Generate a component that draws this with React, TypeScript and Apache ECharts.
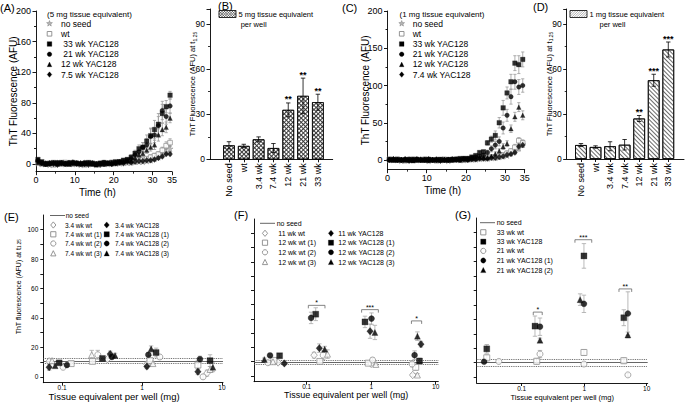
import React, { useEffect, useRef } from "react";
import * as echarts from "echarts";

const FONT = '"Liberation Sans", Arial, Helvetica, sans-serif';

// ---------------- Panels A & C : ThT time courses ----------------
const TIME_H = [0.5, 1.5, 2.5, 3.5, 4.5, 5.5, 6.5, 7.5, 8.5, 9.5, 10.5, 11.5, 12.5, 13.5, 14.5, 15.5, 16.5, 17.5, 18.5, 19.5, 20.5, 21.5, 22.5, 23.5, 24.5, 25.5, 26.5, 27.5, 28.5, 29.5, 30.5, 31.5, 32.5, 33.5, 34.5];

const A_NO_SEED = [1, 0, 1, -1, 0, 1, 1, 0, 1, 0, 1, -1, 0, 1, 0, -1, 0, 1, 0, 1, 1, 1, 2, 2, 2, 3, 3, 3, 4, 5, 7, 9, 12, 16, 20];
const A_NO_SEED_ERR = [1, 1, 1, 1, 1, 1, 1, 1, 1, 1, 1, 1, 1, 1, 1, 1, 1, 1, 1, 1, 1, 1, 1, 1, 1, 1, 1, 2, 2, 2, 2, 3, 3, 4, 4];
const A_WT = [2, 1, 0, 1, -1, 1, 0, 2, 1, 0, 1, 0, -1, 1, 1, 0, 1, 0, 1, 2, 1, 2, 3, 2, 4, 4, 5, 6, 7, 9, 11, 13, 18, 24, 28];
const A_WT_ERR = [1, 1, 1, 1, 1, 1, 1, 1, 1, 1, 1, 1, 1, 1, 1, 1, 1, 1, 1, 1, 1, 1, 1, 1, 1, 2, 2, 2, 2, 3, 3, 3, 4, 5, 5];
const A_YAC_7_5 = [3, 1, 0, 1, 0, -1, 1, 0, 1, 2, 0, 1, 0, -1, 1, 0, -1, 0, 1, 0, 1, 2, 1, 3, 2, 3, 4, 4, 5, 5, 6, 8, 10, 13, 13];
const A_YAC_7_5_ERR = [2, 1, 1, 1, 1, 1, 1, 1, 1, 1, 1, 1, 1, 1, 1, 1, 1, 1, 1, 1, 1, 1, 1, 1, 1, 1, 1, 1, 1, 2, 2, 2, 2, 2, 2];
const A_YAC_12 = [2, 1, 0, 1, 2, 0, 1, 1, 0, 1, 2, 1, 0, 1, 0, -1, 1, 0, 1, 2, 1, 2, 3, 4, 4, 8, 12, 14, 18, 22, 25, 38, 45, 48, 60];
const A_YAC_12_ERR = [1, 1, 1, 1, 1, 1, 1, 1, 1, 1, 1, 1, 1, 1, 1, 1, 1, 1, 1, 1, 1, 1, 2, 2, 2, 3, 3, 4, 4, 5, 6, 8, 8, 7, 6];
const A_YAC_21 = [5, 2, 1, 0, 1, 2, 1, 0, 2, 1, 1, 0, 2, 1, 0, -1, 1, 2, 1, 0, 2, 3, 3, 5, 7, 12, 16, 22, 25, 36, 38, 50, 70, 62, 76];
const A_YAC_21_ERR = [2, 1, 1, 1, 1, 1, 1, 1, 1, 1, 1, 1, 1, 1, 1, 1, 1, 1, 1, 1, 1, 2, 2, 3, 3, 4, 5, 6, 8, 10, 10, 12, 12, 10, 9];
const A_YAC_33 = [6, 3, 0, 1, 2, 1, 2, 1, 0, 2, 1, 0, 1, 2, 1, 0, 1, 2, 1, 2, 3, 3, 5, 6, 9, 14, 20, 22, 30, 37, 45, 52, 66, 75, 90];
const A_YAC_33_ERR = [2, 1, 1, 1, 1, 1, 1, 1, 1, 1, 1, 1, 1, 1, 1, 1, 1, 1, 1, 1, 1, 2, 2, 2, 3, 4, 5, 6, 8, 10, 12, 14, 12, 8, 5];

const C_NO_SEED = [0, 1, 0, -1, 0, 1, 0, 0, 1, 0, -1, 0, 1, 0, 0, -1, 0, 1, 0, 0, 1, 1, 1, 2, 2, 2, 3, 3, 4, 5, 6, 9, 12, 16, 21];
const C_NO_SEED_ERR = [1, 1, 1, 1, 1, 1, 1, 1, 1, 1, 1, 1, 1, 1, 1, 1, 1, 1, 1, 1, 1, 1, 1, 1, 1, 1, 1, 2, 2, 2, 2, 3, 3, 4, 4];
const C_WT = [1, 0, 1, 0, -1, 0, 1, 0, 0, 1, 0, 0, -1, 0, 1, 0, 0, 1, 1, 0, 1, 1, 2, 2, 3, 3, 4, 4, 5, 7, 9, 12, 17, 26, 23];
const C_WT_ERR = [1, 1, 1, 1, 1, 1, 1, 1, 1, 1, 1, 1, 1, 1, 1, 1, 1, 1, 1, 1, 1, 1, 1, 1, 1, 1, 1, 2, 2, 2, 3, 3, 4, 4, 4];
const C_YAC_7_4 = [0, 1, 0, 0, 1, -1, 0, 1, 0, 0, 1, 0, 0, -1, 0, 0, 1, 0, 0, 1, 0, 1, 1, 2, 2, 2, 3, 3, 4, 5, 7, 8, 10, 18, 20];
const C_YAC_7_4_ERR = [1, 1, 1, 1, 1, 1, 1, 1, 1, 1, 1, 1, 1, 1, 1, 1, 1, 1, 1, 1, 1, 1, 1, 1, 1, 1, 1, 1, 1, 2, 2, 2, 2, 3, 3];
const C_YAC_12 = [1, 0, 0, 1, 0, 0, -1, 0, 1, 0, 0, 1, 0, 0, 1, 0, 0, 1, 0, 1, 1, 2, 2, 3, 3, 3, 5, 8, 12, 18, 22, 42, 58, 71, 60];
const C_YAC_12_ERR = [1, 1, 1, 1, 1, 1, 1, 1, 1, 1, 1, 1, 1, 1, 1, 1, 1, 1, 1, 1, 1, 1, 1, 1, 2, 2, 2, 3, 3, 4, 4, 5, 6, 6, 6];
const C_YAC_21 = [0, 1, 0, 0, 1, 0, 1, 0, 0, 1, -1, 0, 1, 0, 0, 1, 0, 1, 1, 2, 2, 3, 4, 5, 6, 10, 15, 20, 25, 43, 60, 85, 105, 98, 100];
const C_YAC_21_ERR = [1, 1, 1, 1, 1, 1, 1, 1, 1, 1, 1, 1, 1, 1, 1, 1, 1, 1, 1, 1, 1, 2, 2, 2, 3, 3, 4, 5, 6, 8, 8, 10, 10, 10, 9];
const C_YAC_33 = [1, 0, 1, 0, 0, 1, 0, 1, 0, 0, 1, 0, 0, 1, 0, 0, 1, 1, 2, 2, 2, 4, 6, 10, 11, 23, 28, 33, 50, 70, 90, 105, 130, 128, 135];
const C_YAC_33_ERR = [1, 1, 1, 1, 1, 1, 1, 1, 1, 1, 1, 1, 1, 1, 1, 1, 1, 1, 1, 1, 1, 2, 2, 2, 2, 3, 4, 6, 7, 10, 8, 10, 10, 12, 10];

const A_Y_TICKS = [0, 40, 80, 120, 160, 200];
const A_Y_MINOR = [20, 60, 100, 140, 180];
const C_Y_TICKS = [0, 50, 100, 150, 200];
const C_Y_MINOR = [25, 75, 125, 175];

// ---------------- Panels B & D : bars at t1.25 ----------------
const BAR_CATEGORIES = ["No seed", "wt", "3.4 wk", "7.4 wk", "12 wk", "21 wk", "33 wk"];
const BAR_Y_TICKS = [0, 30, 60, 90];
const B_VALUES = [9.3, 8.9, 13.3, 7.5, 32.9, 42.2, 38];
const B_ERRORS = [2.4, 1.1, 1.6, 3, 4.6, 11.8, 5.3];
const B_SIGNIF = ["", "", "", "", "**", "**", "**"];
const D_VALUES = [9.3, 8, 8.5, 9.5, 27, 52.5, 73];
const D_ERRORS = [1, 0.8, 3, 3.5, 2, 4, 5];
const D_SIGNIF = ["", "", "", "", "**", "***", "***"];

// ---------------- Panels E, F, G : dose response ----------------
const E_WT_3_4 = [[0.069, 10.5], [0.37, 12], [1.15, 8.5], [6.5, 2.5]];
const E_WT_3_4_ERR = [1.5, 1, 1.5, 2];
const E_WT_7_4_1 = [[0.13, 9], [0.24, 10.5], [1.26, 11], [5.0, 8]];
const E_WT_7_4_1_ERR = [1, 1, 3.5, 3];
const E_WT_7_4_2 = [[0.103, 6.5], [0.28, 15], [1.67, 13.5], [5.8, 0]];
const E_WT_7_4_2_ERR = [1, 3, 1.5, 1.5];
const E_WT_7_4_3 = [[0.075, 11], [0.235, 15], [1.37, 9], [7.1, 5]];
const E_WT_7_4_3_ERR = [1.5, 3, 1, 2];
const E_YAC_3_4 = [[0.069, 6.5], [0.4, 15.5], [1.15, 7], [5.0, 3.5]];
const E_YAC_3_4_ERR = [2, 2, 1.5, 2];
const E_YAC_7_4_1 = [[0.092, 9.5], [0.32, 12.5], [1.5, 16.5], [7.1, 11]];
const E_YAC_7_4_1_ERR = [1, 1, 3, 4];
const E_YAC_7_4_2 = [[0.115, 8], [0.42, 13.5], [1.2, 15], [5.3, 12]];
const E_YAC_7_4_2_ERR = [1, 1.5, 1.5, 2];
const E_YAC_7_4_3 = [[0.082, 7.5], [0.46, 14.5], [1.3, 19], [7.7, 6.5]];
const E_YAC_7_4_3_ERR = [1, 1.5, 2, 3];
const E_NO_SEED = [10.8, 12.6, 9.2]; // mean, upper, lower

const F_WT_11 = [[0.036, 9.5], [0.13, 14.6], [1.0, 8.5], [4.4, 0.7]];
const F_WT_11_ERR = [1, 2, 1, 1];
const F_WT_12_1 = [[0.031, 10.9], [0.16, 10.2], [0.9, 9], [4.9, 6.1]];
const F_WT_12_1_ERR = [1, 1.5, 1, 2];
const F_WT_12_2 = [[0.025, 9.3], [0.18, 14.6], [1.05, 11.2], [4.3, 8.4]];
const F_WT_12_2_ERR = [1, 3, 1.5, 2];
const F_WT_12_3 = [[0.03, 10], [0.21, 15.3], [1.18, 8.1], [5.2, 0.7]];
const F_WT_12_3_ERR = [1, 3, 1, 1];
const F_YAC_11 = [[0.045, 8.8], [0.157, 19.5], [0.96, 31.4], [5.9, 22.3]];
const F_YAC_11_ERR = [1, 3, 5, 2];
const F_YAC_12_1 = [[0.038, 14.2], [0.138, 43.3], [0.8, 37.9], [5.6, 10.5]];
const F_YAC_12_1_ERR = [1.5, 4.5, 4, 2];
const F_YAC_12_2 = [[0.027, 14.4], [0.117, 40.7], [1.01, 40.2], [4.7, 14.6]];
const F_YAC_12_2_ERR = [1, 4, 4, 3];
const F_YAC_12_3 = [[0.022, 11.6], [0.19, 18.8], [1.14, 30.5], [5.2, 27.9]];
const F_YAC_12_3_ERR = [1, 2, 5, 3];
const F_NO_SEED = [9.8, 11, 8.4];
const F_BRACKETS = [[0.106, 0.192, 49.5], [0.71, 1.29, 46.5], [4.2, 6.05, 38.6]];
const F_BRACKET_LABELS = ["*", "***", "*"];

const G_WT_33 = [[0.0276, 13.4], [0.174, 11], [0.99, 17.1], [4.3, 11.4]];
const G_WT_33_ERR = [2, 2, 2, 2];
const G_YAC_33 = [[0.0276, 19.6], [0.163, 35.3], [0.99, 83.8], [4.3, 41.1]];
const G_YAC_33_ERR = [3, 7, 8.5, 5.5];
const G_WT_21 = [[0.043, 10.9], [0.196, 16], [0.99, 9.1], [5.0, 1.6]];
const G_WT_21_ERR = [1, 2.5, 1, 1];
const G_YAC_21_1 = [[0.025, 10.7], [0.196, 34.9], [0.99, 50.7], [5.0, 44]];
const G_YAC_21_1_ERR = [1, 6, 6, 15];
const G_YAC_21_2 = [[0.196, 25.5], [0.86, 53.6], [5.0, 29.2]];
const G_YAC_21_2_ERR = [1.5, 4, 2];
const G_NO_SEED = [10, 12.6, 7.5];
const G_BRACKETS = [[0.153, 0.213, 45], [0.711, 1.32, 95], [3.6, 5.75, 61]];
const G_BRACKET_LABELS = ["*", "***", "**"];

const DOSE_Y_MAJOR = [0, 20, 40, 60, 80, 100];
const DOSE_Y_MINOR = [10, 30, 50, 70, 90];

// ---------------- helpers ----------------
const GRAY = "#8a8a8a";
const STAR_PATH = "path://M50,0 L61,35 L98,35 L68,57 L79,91 L50,70 L21,91 L32,57 L2,35 L39,35 Z";
const SYMBOLS: any = { rect: "rect", circle: "circle", triangle: "triangle", diamond: "diamond", star: STAR_PATH };

function ax(o: any) {
  const a: any = {
    type: o.type || "value",
    gridIndex: o.grid,
    min: o.min,
    max: o.max,
    silent: true,
    nameMoveOverlap: false,
    axisLine: { show: o.line !== false, onZero: false, lineStyle: { color: "#000", width: 0.9 } },
    axisTick: { show: o.tick !== false, inside: false, length: o.tickLen ?? 3, lineStyle: { color: "#000", width: 0.9 } },
    minorTick: { show: !!o.minor, splitNumber: o.minor || 2, length: 2, lineStyle: { color: "#000", width: 0.8 } },
    axisLabel: { show: o.label !== false, color: "#000", fontFamily: FONT, fontSize: o.fs || 9, margin: o.margin ?? 4, rotate: o.rotate || 0 },
    splitLine: { show: false },
    minorSplitLine: { show: false },
  };
  if (o.position) a.position = o.position;
  if (o.interval != null) a.interval = o.interval;
  if (o.type === "log") a.logBase = 10;
  if (o.tickValues) a.axisTick.customValues = o.tickValues.slice();
  if (o.labelValues) a.axisLabel.customValues = o.labelValues.slice();
  if (o.formatter) a.axisLabel.formatter = o.formatter;
  if (o.hideEnds) { a.axisLabel.showMinLabel = false; a.axisLabel.showMaxLabel = false; }
  if (o.name) {
    a.name = o.name;
    a.nameLocation = "middle";
    a.nameGap = o.nameGap;
    a.nameTextStyle = { color: "#000", fontFamily: FONT, fontSize: o.nameFs || 10, padding: o.namePad || 0 };
    if (o.rich) a.nameTextStyle.rich = o.rich;
  }
  return a;
}

function errRender(color: string, cap: number) {
  return (params: any, api: any) => {
    const x = api.value(0), y = api.value(1), e = api.value(2);
    if (!e) return null;
    const t = api.coord([x, y + e]);
    const b = api.coord([x, y - e]);
    const st = { stroke: color, lineWidth: 0.8 };
    return {
      type: "group",
      children: [
        { type: "line", shape: { x1: t[0], y1: t[1], x2: b[0], y2: b[1] }, style: st },
        { type: "line", shape: { x1: t[0] - cap, y1: t[1], x2: t[0] + cap, y2: t[1] }, style: st },
        { type: "line", shape: { x1: b[0] - cap, y1: b[1], x2: b[0] + cap, y2: b[1] }, style: st },
      ],
    };
  };
}

function itemStyleFor(filled: any, kind: string) {
  if (kind === "star") return { color: "#b5b5b5", borderColor: GRAY, borderWidth: 0.6 };
  return filled ? { color: "#000", borderColor: "#000", borderWidth: 0.3 } : { color: "#fff", borderColor: GRAY, borderWidth: 0.9 };
}

function legendSym(kind: string, cx: number, cy: number, s: number, filled: boolean) {
  const style: any = kind === "star" ? { fill: "#b5b5b5", stroke: GRAY, lineWidth: 0.6 }
    : filled ? { fill: "#000", stroke: "#000", lineWidth: 0.3 } : { fill: "#fff", stroke: GRAY, lineWidth: 0.9 };
  const h = s / 2;
  if (kind === "rect") return { type: "rect", shape: { x: cx - h, y: cy - h, width: s, height: s }, style };
  if (kind === "circle") return { type: "circle", shape: { cx, cy, r: h }, style };
  if (kind === "triangle") return { type: "polygon", shape: { points: [[cx, cy - h], [cx + h, cy + h], [cx - h, cy + h]] }, style };
  if (kind === "diamond") return { type: "polygon", shape: { points: [[cx, cy - h * 1.2], [cx + h, cy], [cx, cy + h * 1.2], [cx - h, cy]] }, style };
  const pts: number[][] = [];
  for (let k = 0; k < 10; k++) {
    const r = k % 2 === 0 ? h * 1.1 : h * 0.45;
    const a = -Math.PI / 2 + (k * Math.PI) / 5;
    pts.push([cx + r * Math.cos(a), cy + r * Math.sin(a)]);
  }
  return { type: "polygon", shape: { points: pts }, style };
}

function txt(text: string, x: number, y: number, fs: number, align = "left", extra: any = {}) {
  return {
    type: "text", x, y, silent: true,
    style: { text, fill: "#000", font: `${fs}px ${FONT}`, textAlign: align, textVerticalAlign: "middle", align, verticalAlign: "middle", ...extra },
  };
}

function hatch(x0: number, y0: number, w: number, h: number, step: number, dir: number, color: string) {
  const els: any[] = [];
  const st = { stroke: color, lineWidth: 0.6 };
  if (dir > 0) {
    for (let c = x0 + y0 + step / 2; c < x0 + w + y0 + h; c += step) {
      const xa = Math.max(x0, c - (y0 + h)), xb = Math.min(x0 + w, c - y0);
      if (xb > xa) els.push({ type: "line", shape: { x1: xa, y1: c - xa, x2: xb, y2: c - xb }, style: st });
    }
  } else {
    for (let c = x0 - (y0 + h) + step / 2; c < x0 + w - y0; c += step) {
      const xa = Math.max(x0, c + y0), xb = Math.min(x0 + w, c + y0 + h);
      if (xb > xa) els.push({ type: "line", shape: { x1: xa, y1: xa - c, x2: xb, y2: xb - c }, style: st });
    }
  }
  return els;
}

function buildOption() {
  const grid: any[] = [], xAxis: any[] = [], yAxis: any[] = [], series: any[] = [], graphic: any[] = [];
  const addGrid = (g: any) => { grid.push({ ...g, containLabel: false, show: false, outerBoundsMode: "none" }); return grid.length - 1; };
  const addX = (a: any) => { xAxis.push(a); return xAxis.length - 1; };
  const addY = (a: any) => { yAxis.push(a); return yAxis.length - 1; };

  // ---------- time-course panels ----------
  const timePanel = (g: any, yMin: number, yTicks: number[], yMinor: number[], namePadX: number, yGap: number, defs: any[]) => {
    const gi = addGrid(g);
    const xi = addX(ax({ grid: gi, min: 0, max: 35, interval: 10, minor: 2, fs: 9, margin: 4, tickLen: 3.5, name: "Time (h)", nameGap: 15.5, nameFs: 10, namePad: [0, namePadX, 0, 0] }));
    const yi = addY(ax({ grid: gi, position: "left", min: yMin, max: 200, labelValues: yTicks, tickValues: yTicks, fs: 9, margin: 5, tickLen: 3.5, name: "ThT Fluorescence (AFU)", nameGap: yGap, nameFs: 10 }));
    addY(ax({ grid: gi, position: "left", min: yMin, max: 200, line: false, label: false, tickValues: yMinor, tickLen: 2 }));
    defs.forEach((d: any) => {
      series.push({
        type: "custom", xAxisIndex: xi, yAxisIndex: yi, silent: true, z: 2,
        data: TIME_H.map((t, i) => [t, d.values[i], d.err[i]]),
        encode: { x: 0, y: 1 }, renderItem: errRender("#9a9a9a", 1.6),
      });
    });
    defs.forEach((d: any) => {
      series.push({
        type: "scatter", xAxisIndex: xi, yAxisIndex: yi, silent: true, z: 4,
        data: TIME_H.map((t, i) => [t, d.values[i]]),
        symbol: SYMBOLS[d.kind], symbolSize: d.kind === "diamond" ? [5, 6] : d.kind === "star" ? 6 : 4.6,
        itemStyle: itemStyleFor(d.filled, d.kind),
      });
    });
  };

  timePanel({ left: 36, top: 11, width: 136, height: 160.7 }, -10, A_Y_TICKS, A_Y_MINOR, 13, 18, [
    { values: A_NO_SEED, err: A_NO_SEED_ERR, kind: "star", filled: false },
    { values: A_WT, err: A_WT_ERR, kind: "rect", filled: false },
    { values: A_YAC_7_5, err: A_YAC_7_5_ERR, kind: "diamond", filled: true },
    { values: A_YAC_12, err: A_YAC_12_ERR, kind: "triangle", filled: true },
    { values: A_YAC_21, err: A_YAC_21_ERR, kind: "circle", filled: true },
    { values: A_YAC_33, err: A_YAC_33_ERR, kind: "rect", filled: true },
  ]);
  timePanel({ left: 387.5, top: 11, width: 137.2, height: 158.7 }, -13, C_Y_TICKS, C_Y_MINOR, 27, 17.5, [
    { values: C_NO_SEED, err: C_NO_SEED_ERR, kind: "star", filled: false },
    { values: C_WT, err: C_WT_ERR, kind: "rect", filled: false },
    { values: C_YAC_7_4, err: C_YAC_7_4_ERR, kind: "diamond", filled: true },
    { values: C_YAC_12, err: C_YAC_12_ERR, kind: "triangle", filled: true },
    { values: C_YAC_21, err: C_YAC_21_ERR, kind: "circle", filled: true },
    { values: C_YAC_33, err: C_YAC_33_ERR, kind: "rect", filled: true },
  ]);

  // ---------- bar panels ----------
  const barPanel = (g: any, xMin: number, xMax: number, values: number[], errs: number[], sig: string[], decal: any, baseColor: string) => {
    const gi = addGrid(g);
    const idx = BAR_CATEGORIES.map((_, i) => i);
    const xi = addX(ax({ grid: gi, min: xMin, max: xMax, labelValues: idx, tickValues: idx, formatter: (v: number) => BAR_CATEGORIES[v] ?? "", rotate: 90, fs: 9, margin: 4, tickLen: 3 }));
    const yi = addY(ax({
      grid: gi, min: 0, max: 100, interval: 30, minor: 2, labelValues: BAR_Y_TICKS, fs: 8.5, margin: 5, tickLen: 3.5,
      name: "ThT Fluorescence (AFU) at t{sub|1.25}", nameGap: 13, nameFs: 7.5,
      rich: { sub: { fontSize: 5, fontFamily: FONT, color: "#000", padding: [4, 0, 0, 0] } },
    }));
    series.push({
      type: "bar", xAxisIndex: xi, yAxisIndex: yi, silent: true, z: 2,
      data: values.map((v, i) => [i, v]), barWidth: 11.7,
      itemStyle: { color: baseColor, borderColor: "#000", borderWidth: 0.8, decal },
    });
    series.push({
      type: "custom", xAxisIndex: xi, yAxisIndex: yi, silent: true, z: 5,
      data: values.map((v, i) => [i, v, errs[i]]), encode: { x: 0, y: 1 },
      renderItem: (params: any, api: any) => {
        const el: any = errRender("#000", 2.2)(params, api);
        const s = sig[params.dataIndex];
        if (s) {
          const t = api.coord([api.value(0), api.value(1) + api.value(2)]);
          el.children.push({ type: "text", x: t[0], y: t[1] + 1, style: { text: s, fill: "#000", font: `bold 9px ${FONT}`, textAlign: "center", textVerticalAlign: "bottom", align: "center", verticalAlign: "bottom" } });
        }
        return el;
      },
    });
  };
  barPanel({ left: 210, top: 9, width: 122.7, height: 150.3 }, -1.28, 7.0, B_VALUES, B_ERRORS, B_SIGNIF,
    { symbol: "rect", symbolSize: 1, dashArrayX: [2, 1], dashArrayY: [2, 1], rotation: Math.PI / 4, color: "#ffffff" }, "#3a3a3a");
  barPanel({ left: 566.7, top: 9, width: 117.3, height: 150 }, -0.98, 7.08, D_VALUES, D_ERRORS, D_SIGNIF,
    { symbol: "rect", symbolSize: 1, dashArrayX: [1, 0], dashArrayY: [1, 2], rotation: Math.PI / 4, color: "#6a6a6a" }, "#ffffff");

  // ---------- dose-response panels ----------
  const dosePanel = (g: any, xMin: number, xMax: number, opts: any, defs: any[], noSeed: number[], brackets: any, bracketLabels: string[]) => {
    const gi = addGrid(g);
    const xi = addX(ax({ grid: gi, type: "log", min: xMin, max: xMax, fs: 6.5, margin: 1.5, tickLen: 3, hideEnds: true, name: "Tissue equivalent per well (mg)", nameGap: opts.nameGap, nameFs: opts.nameFs, namePad: opts.namePad }));
    const yOpts: any = { grid: gi, position: "left", min: -4, max: 110, labelValues: DOSE_Y_MAJOR, tickValues: DOSE_Y_MAJOR, fs: 6.5, margin: 5, tickLen: 3 };
    if (opts.yLabels) {
      yOpts.name = "ThT fluorescence (AFU) at t{sub|1.25}";
      yOpts.nameGap = 21;
      yOpts.nameFs = 7;
      yOpts.namePad = [0, 0, 0, 24];
      yOpts.rich = { sub: { fontSize: 4.5, fontFamily: FONT, color: "#000", padding: [3, 0, 0, 0] } };
    } else {
      yOpts.label = false;
    }
    const yi = addY(ax(yOpts));
    addY(ax({ grid: gi, position: "left", min: -4, max: 110, line: false, label: false, tickValues: DOSE_Y_MINOR, tickLen: 3 }));
    defs.forEach((d: any) => {
      series.push({
        type: "custom", xAxisIndex: xi, yAxisIndex: yi, silent: true, z: 2,
        data: d.data.map((p: number[], i: number) => [p[0], p[1], d.err[i]]), encode: { x: 0, y: 1 },
        renderItem: errRender("#a8a8a8", 2.2),
      });
    });
    defs.forEach((d: any, k: number) => {
      const s: any = {
        type: "scatter", xAxisIndex: xi, yAxisIndex: yi, silent: true, z: 4,
        data: d.data, symbol: SYMBOLS[d.kind], symbolSize: d.kind === "diamond" ? [6.5, 7.5] : 6,
        itemStyle: itemStyleFor(d.filled, d.kind),
      };
      if (k === 0) {
        s.markLine = {
          silent: true, symbol: ["none", "none"], label: { show: false }, z: 1,
          data: [
            { yAxis: noSeed[0], lineStyle: { type: "solid", color: "#555", width: 0.9 } },
            { yAxis: noSeed[1], lineStyle: { type: "dotted", color: "#555", width: 0.9 } },
            { yAxis: noSeed[2], lineStyle: { type: "dotted", color: "#555", width: 0.9 } },
          ],
        };
      }
      series.push(s);
    });
    if (brackets) {
      series.push({
        type: "custom", xAxisIndex: xi, yAxisIndex: yi, silent: true, z: 5,
        data: brackets, encode: { x: [0, 1], y: 2 },
        renderItem: (params: any, api: any) => {
          const p1 = api.coord([api.value(0), api.value(2)]);
          const p2 = api.coord([api.value(1), api.value(2)]);
          return {
            type: "group",
            children: [
              { type: "polyline", shape: { points: [[p1[0], p1[1] + 3], [p1[0], p1[1]], [p2[0], p2[1]], [p2[0], p2[1] + 3]] }, style: { stroke: "#666", fill: "none", lineWidth: 0.8 } },
              { type: "text", x: (p1[0] + p2[0]) / 2, y: p1[1] + 1, style: { text: bracketLabels[params.dataIndex], fill: "#000", font: `7px ${FONT}`, textAlign: "center", textVerticalAlign: "bottom", align: "center", verticalAlign: "bottom" } },
            ],
          };
        },
      });
    }
  };

  dosePanel({ left: 43.3, top: 215, width: 179.7, height: 167.7 }, 0.0583, 10.3,
    { yLabels: true, nameGap: 8.5, nameFs: 9.5, namePad: [0, 38, 0, 0] }, [
      { data: E_WT_3_4, err: E_WT_3_4_ERR, kind: "diamond", filled: false },
      { data: E_WT_7_4_1, err: E_WT_7_4_1_ERR, kind: "rect", filled: false },
      { data: E_WT_7_4_2, err: E_WT_7_4_2_ERR, kind: "circle", filled: false },
      { data: E_WT_7_4_3, err: E_WT_7_4_3_ERR, kind: "triangle", filled: false },
      { data: E_YAC_3_4, err: E_YAC_3_4_ERR, kind: "diamond", filled: true },
      { data: E_YAC_7_4_1, err: E_YAC_7_4_1_ERR, kind: "rect", filled: true },
      { data: E_YAC_7_4_2, err: E_YAC_7_4_2_ERR, kind: "circle", filled: true },
      { data: E_YAC_7_4_3, err: E_YAC_7_4_3_ERR, kind: "triangle", filled: true },
    ], E_NO_SEED, null, []);
  dosePanel({ left: 254, top: 219, width: 184.3, height: 162.7 }, 0.01524, 10.96,
    { yLabels: false, nameGap: 9, nameFs: 9, namePad: 0 }, [
      { data: F_WT_11, err: F_WT_11_ERR, kind: "diamond", filled: false },
      { data: F_WT_12_1, err: F_WT_12_1_ERR, kind: "rect", filled: false },
      { data: F_WT_12_2, err: F_WT_12_2_ERR, kind: "circle", filled: false },
      { data: F_WT_12_3, err: F_WT_12_3_ERR, kind: "triangle", filled: false },
      { data: F_YAC_11, err: F_YAC_11_ERR, kind: "diamond", filled: true },
      { data: F_YAC_12_1, err: F_YAC_12_1_ERR, kind: "rect", filled: true },
      { data: F_YAC_12_2, err: F_YAC_12_2_ERR, kind: "circle", filled: true },
      { data: F_YAC_12_3, err: F_YAC_12_3_ERR, kind: "triangle", filled: true },
    ], F_NO_SEED, F_BRACKETS, F_BRACKET_LABELS);
  dosePanel({ left: 476.7, top: 218, width: 171, height: 165 }, 0.01905, 10.37,
    { yLabels: false, nameGap: 10, nameFs: 7.5, namePad: 0 }, [
      { data: G_WT_33, err: G_WT_33_ERR, kind: "rect", filled: false },
      { data: G_WT_21, err: G_WT_21_ERR, kind: "circle", filled: false },
      { data: G_YAC_21_2, err: G_YAC_21_2_ERR, kind: "triangle", filled: true },
      { data: G_YAC_21_1, err: G_YAC_21_1_ERR, kind: "circle", filled: true },
      { data: G_YAC_33, err: G_YAC_33_ERR, kind: "rect", filled: true },
    ], G_NO_SEED, G_BRACKETS, G_BRACKET_LABELS);

  // ---------- panel letters ----------
  [["(A)", 0, 8], ["(B)", 218, 5.5], ["(C)", 342, 8], ["(D)", 533, 6.5], ["(E)", 4, 217], ["(F)", 234, 215], ["(G)", 455, 215]]
    .forEach(([t, x, y]: any) => graphic.push(txt(t, x, y, 11)));

  // ---------- legends A & C ----------
  const tcLegend = (hx: number, sx: number, tx: number, header: string, names: string[]) => {
    graphic.push(txt(header, hx, 14.5, 8));
    const kinds = [["star", false], ["rect", false], ["rect", true], ["circle", true], ["triangle", true], ["diamond", true]];
    const ys = [23.6, 33.8, 44, 54.2, 64.4, 74.6];
    names.forEach((n, i) => {
      graphic.push(legendSym(kinds[i][0] as string, sx, ys[i], kinds[i][0] === "star" ? 5.5 : 4.6, kinds[i][1] as boolean));
      graphic.push(txt(n, tx, ys[i], 8.5));
    });
  };
  tcLegend(47, 49.5, 61, "(5 mg tissue equivalent)", ["no seed", "wt", " 33 wk YAC128", " 21 wk YAC128", "12 wk YAC128", "7.5 wk YAC128"]);
  tcLegend(399.5, 401.7, 412.7, "(1 mg tissue equivalent)", ["no seed", "wt", "33 wk YAC128", "21 wk YAC128", "12 wk YAC128", "7.4 wk YAC128"]);

  // ---------- legends B & D ----------
  graphic.push({ type: "rect", shape: { x: 219, y: 10.5, width: 17, height: 7 }, style: { fill: "#fff", stroke: "none" } });
  hatch(219, 10.5, 17, 7, 2.6, 1, "#333").forEach((e) => graphic.push(e));
  hatch(219, 10.5, 17, 7, 2.6, -1, "#333").forEach((e) => graphic.push(e));
  graphic.push({ type: "rect", shape: { x: 219, y: 10.5, width: 17, height: 7 }, style: { fill: "none", stroke: "#000", lineWidth: 0.8 } });
  graphic.push(txt("5 mg tissue equivalent", 238.5, 14, 7.5));
  graphic.push(txt("per well", 240.7, 24.5, 7.5));
  graphic.push({ type: "rect", shape: { x: 570, y: 10.5, width: 17, height: 7 }, style: { fill: "#fff", stroke: "none" } });
  hatch(570, 10.5, 17, 7, 2.4, 1, "#777").forEach((e) => graphic.push(e));
  graphic.push({ type: "rect", shape: { x: 570, y: 10.5, width: 17, height: 7 }, style: { fill: "none", stroke: "#000", lineWidth: 0.8 } });
  graphic.push(txt("1 mg tissue equivalent", 589.5, 14, 7.5));
  graphic.push(txt("per well", 599.5, 24.5, 7.5));

  // ---------- legends E, F, G ----------
  const doseLegend = (lx: number, ly: number, ltx: number, fs: number, cols: any[], rows: number[]) => {
    graphic.push({ type: "line", shape: { x1: lx, y1: ly, x2: lx + 15, y2: ly }, style: { stroke: "#555", lineWidth: 0.9 } });
    graphic.push(txt("no seed", ltx, ly, fs));
    cols.forEach((col: any) => {
      col.items.forEach((it: any, i: number) => {
        graphic.push(legendSym(it[0], col.sx, rows[i], 5.2, it[1]));
        graphic.push(txt(it[2], col.tx, rows[i], fs));
      });
    });
  };
  doseLegend(50, 215.5, 65.7, 6.5, [
    { sx: 53.3, tx: 65, items: [["diamond", false, "3.4 wk wt"], ["rect", false, "7.4 wk wt (1)"], ["circle", false, "7.4 wk wt (2)"], ["triangle", false, "7.4 wk wt (3)"]] },
    { sx: 106.7, tx: 115, items: [["diamond", true, "3.4 wk YAC128"], ["rect", true, "7.4 wk YAC128 (1)"], ["circle", true, "7.4 wk YAC128 (2)"], ["triangle", true, "7.4 wk YAC128 (3)"]] },
  ], [225, 234.3, 243.5, 253.3]);
  doseLegend(260, 223.3, 276.7, 7, [
    { sx: 265, tx: 278.3, items: [["diamond", false, "11 wk wt"], ["rect", false, "12 wk wt (1)"], ["circle", false, "12 wk wt (2)"], ["triangle", false, "12 wk wt (3)"]] },
    { sx: 331, tx: 338.3, items: [["diamond", true, "11 wk YAC128"], ["rect", true, "12 wk YAC128 (1)"], ["circle", true, "12 wk YAC128 (2)"], ["triangle", true, "12 wk YAC128 (3)"]] },
  ], [233.3, 242.7, 252.3, 262]);
  doseLegend(480, 222.7, 496.7, 7, [
    { sx: 483.3, tx: 496.7, items: [["rect", false, "33 wk wt"], ["rect", true, "33 wk YAC128"], ["circle", false, "21 wk wt"], ["circle", true, "21 wk YAC128 (1)"], ["triangle", true, "21 wk YAC128 (2)"]] },
  ], [232.3, 241.7, 250.9, 260.5, 270]);

  return { animation: false, backgroundColor: "#fff", grid, xAxis, yAxis, series, graphic: { elements: graphic } };
}

export default function App() {
  const ref = useRef<HTMLDivElement>(null);
  useEffect(() => {
    if (!ref.current) return;
    const chart = echarts.init(ref.current, null, { renderer: "svg", width: 685, height: 402 });
    chart.setOption(buildOption() as any);
    return () => chart.dispose();
  }, []);
  return <div ref={ref} style={{ position: "absolute", left: 0, top: 0, width: 685, height: 402, background: "#fff" }} />;
}
